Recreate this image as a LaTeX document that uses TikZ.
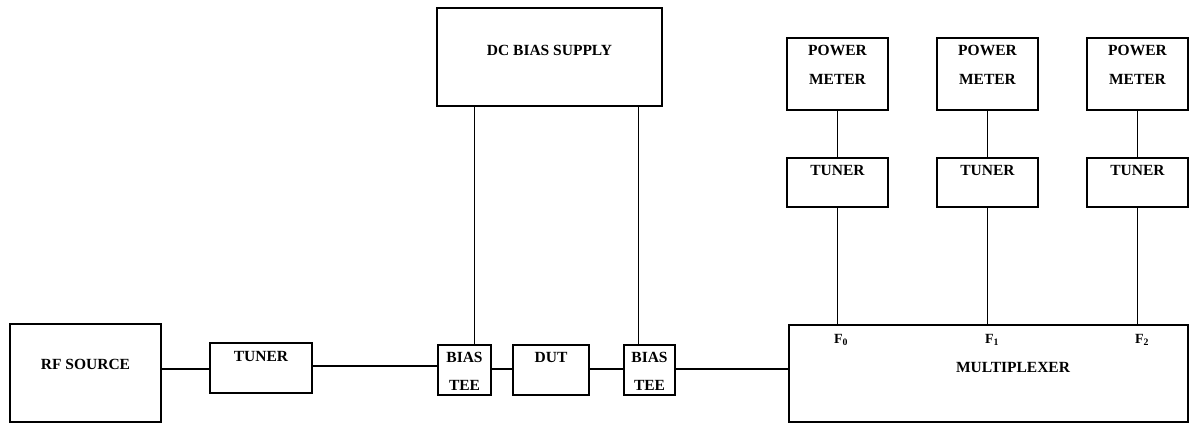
\documentclass[tikz,border=0pt]{standalone}
\usepackage{fontspec}
\setmainfont{Liberation Serif}
\begin{document}
\begin{tikzpicture}[x=1pt,y=-1pt,
  box/.style={draw, line width=1.7pt, inner sep=0pt},
  lbl/.style={font=\bfseries\fontsize{15.5}{18}\selectfont, inner sep=0pt},
  flbl/.style={font=\bfseries\fontsize{14}{16}\selectfont, inner sep=0pt},
  wire/.style={line width=1.4pt},
  vwire/.style={line width=1pt}]
\useasboundingbox (0,0) rectangle (1190,424);

% lower chain
\node[box, minimum width=151pt, minimum height=98pt] (rf) at (85.5,373) {};
\node[lbl] (rft) at (85.5,364.5) {RF SOURCE};
\node[box, minimum width=102pt, minimum height=50pt] (tun) at (261,368) {};
\node[lbl] (tunt) at (261,356) {TUNER};
\node[box, minimum width=53pt, minimum height=50pt] (teeA) at (464.5,370) {};
\node[lbl] (teeAt1) at (464.5,357) {BIAS};
\node[lbl] (teeAt2) at (464.5,385) {TEE};
\node[box, minimum width=76pt, minimum height=50pt] (dut) at (551,370) {};
\node[lbl] (dutt) at (551,357) {DUT};
\node[box, minimum width=51pt, minimum height=50pt] (teeB) at (649.5,370) {};
\node[lbl] (teeBt1) at (649.5,357) {BIAS};
\node[lbl] (teeBt2) at (649.5,385) {TEE};
\node[box, minimum width=399pt, minimum height=97pt] (mux) at (988.5,373.5) {};
\node[lbl] (muxt) at (1013,367) {MULTIPLEXER};

% DC bias supply
\node[box, minimum width=225pt, minimum height=98pt] (dc) at (549.5,57) {};
\node[lbl] (dct) at (549.5,50) {DC BIAS SUPPLY};

% power meters and tuners
\foreach \i/\x in {0/837.5,1/987.5,2/1137.5}{
  \node[box, minimum width=101pt, minimum height=72pt] (pm\i) at (\x,74) {};
  \node[lbl] (pmt\i a) at (\x,50) {POWER};
  \node[lbl] (pmt\i b) at (\x,79) {METER};
  \node[box, minimum width=101pt, minimum height=49pt] (tr\i) at (\x,182.5) {};
  \node[lbl] (trt\i) at (\x,170) {TUNER};
  \draw[vwire] (pm\i.south) -- (tr\i.north);
  \draw[vwire] (tr\i.south) -- (tr\i.south |- mux.north);
}
\node[flbl] (f0) at (841,340) {F\textsubscript{0}};
\node[flbl] (f1) at (992,340) {F\textsubscript{1}};
\node[flbl] (f2) at (1142,340) {F\textsubscript{2}};

% horizontal connections
\draw[wire] (rf.east |- 0,369) -- (tun.west |- 0,369);
\draw[wire] (tun.east |- 0,366) -- (teeA.west |- 0,366);
\draw[wire] (teeA.east |- 0,369) -- (dut.west |- 0,369);
\draw[wire] (dut.east |- 0,369) -- (teeB.west |- 0,369);
\draw[wire] (teeB.east |- 0,369) -- (mux.west |- 0,369);

% bias lines
\draw[vwire] (dc.south -| 474,0) -- (teeA.north -| 474,0);
\draw[vwire] (dc.south -| 638,0) -- (teeB.north -| 638,0);
\end{tikzpicture}
\end{document}
